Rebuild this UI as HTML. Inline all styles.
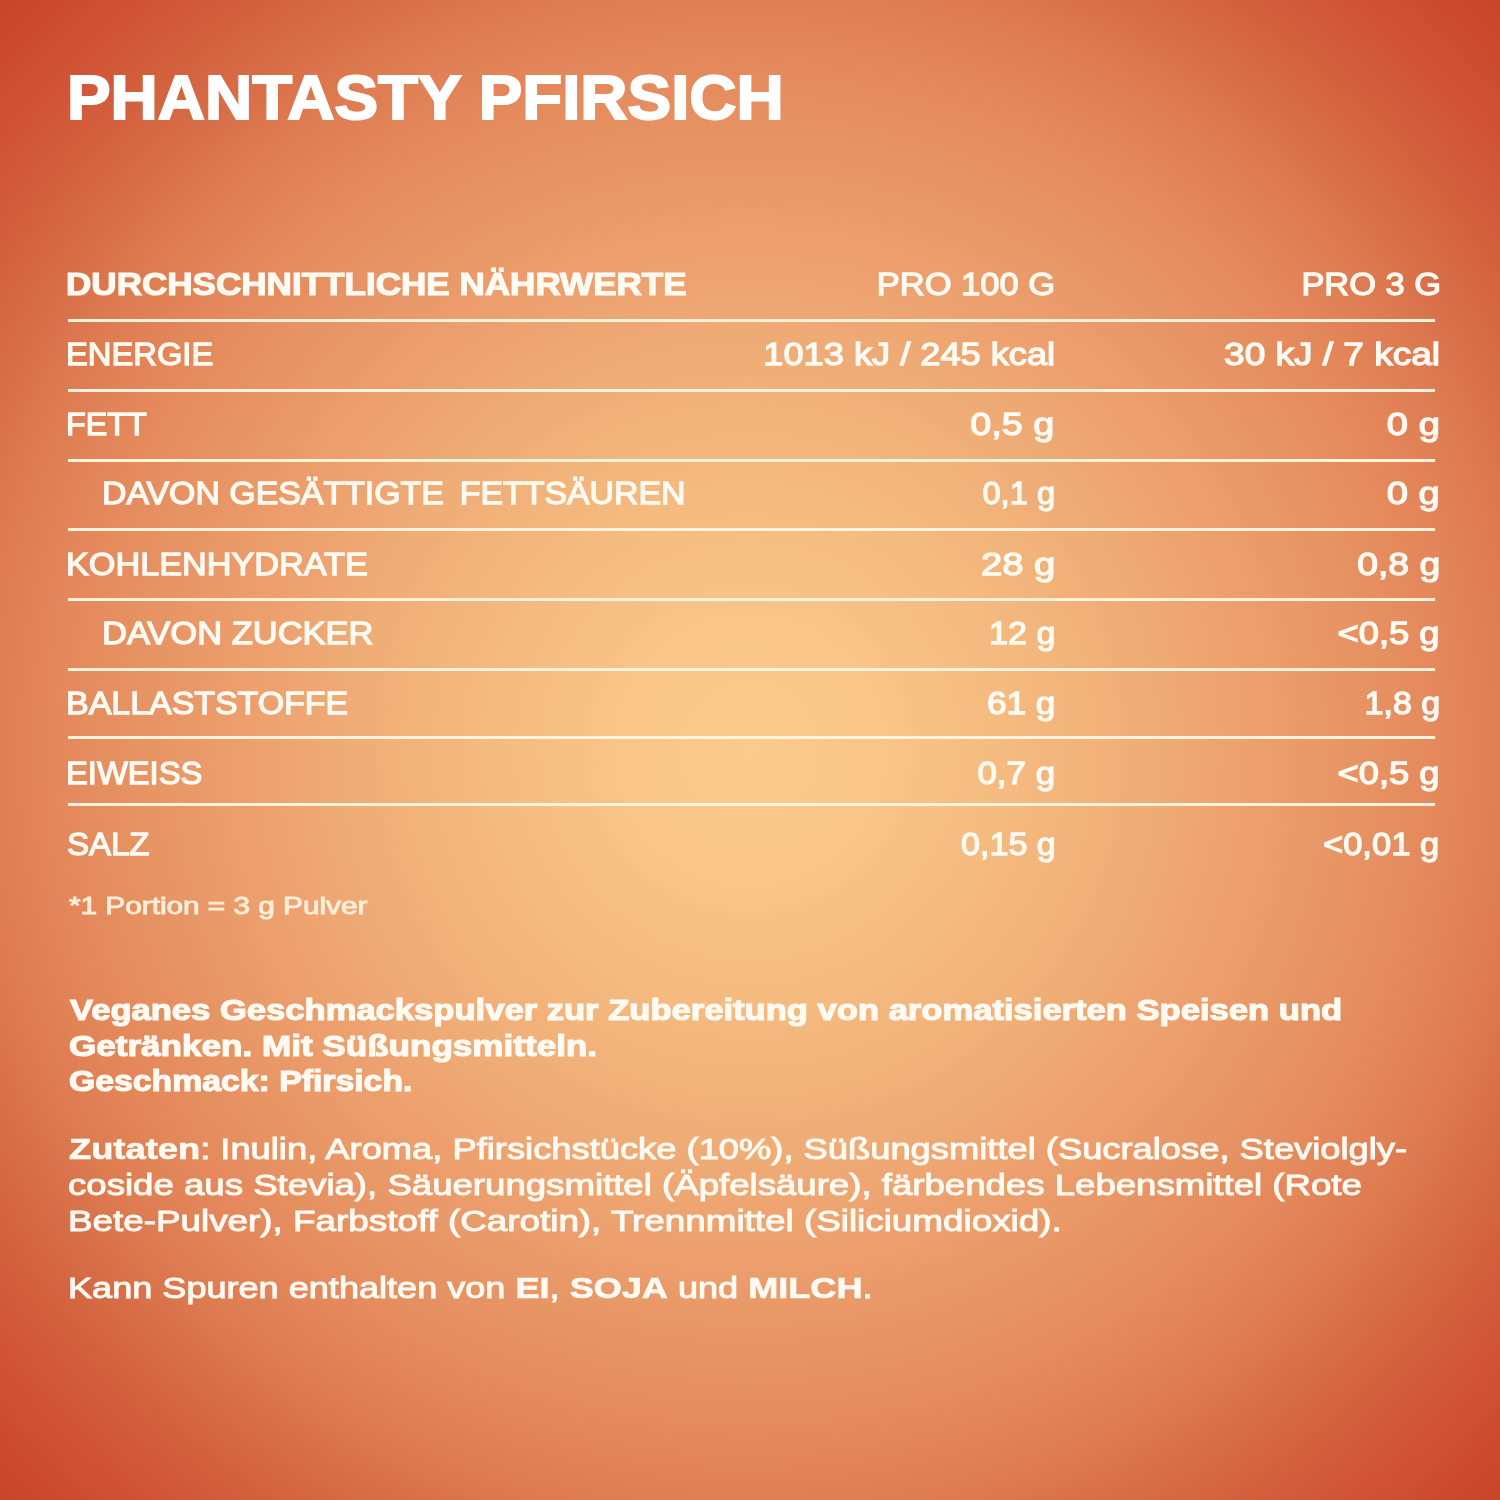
<!DOCTYPE html>
<html lang="de"><head><meta charset="utf-8">
<title>Phantasty Pfirsich – Nährwerte</title>
<style>
html,body{margin:0;padding:0}
body{width:1500px;height:1500px;overflow:hidden;position:relative;
 font-family:"Liberation Sans",sans-serif;color:#fffaf2;
 background:#c9442a radial-gradient(circle at 750px 750px,
  #facb8c 0px, #f9c588 127px, #f4b97e 274px, #efac76 403px, #eda16e 490px, #e69162 630px, #e4875b 700px, #dd7a50 776px, #d66b45 844px, #d05436 954px, #c9442a 1060px);}
.t{position:absolute;white-space:nowrap;line-height:1;margin:0;padding:0;will-change:transform}
.gap{margin-left:6px}
#fn{color:#fdeeda}
.l{transform-origin:0 50%}
.r{transform-origin:100% 50%}
.xb{font-weight:700;-webkit-text-stroke:2.00px currentColor}
.hb{font-weight:700;-webkit-text-stroke:1.20px currentColor}
.sb{font-weight:400;-webkit-text-stroke:1.30px currentColor}
.sb2{font-weight:400;-webkit-text-stroke:0.90px currentColor}
.pb{font-weight:700;-webkit-text-stroke:1.20px currentColor}
.pr{font-weight:400;-webkit-text-stroke:1.00px currentColor}
.pr b{font-weight:700;-webkit-text-stroke:.7px currentColor}
.xb{color:#fff}
.ln{position:absolute;background:#fff3de;left:68px;width:1367px;height:3px}
</style></head><body><main>
<div class="ln" style="top:319.00px"></div>
<div class="ln" style="top:389.00px"></div>
<div class="ln" style="top:458.50px"></div>
<div class="ln" style="top:528.00px"></div>
<div class="ln" style="top:598.00px"></div>
<div class="ln" style="top:667.50px"></div>
<div class="ln" style="top:736.20px"></div>
<div class="ln" style="top:803.10px"></div>
<section class="head">
<h1 id="title" class="t l xb" style="top:65.18px;font-size:63.52px;left:67.00px;transform:scaleX(1.0292);">PHANTASTY PFIRSICH</h1>
</section>
<section class="table">
<div id="h0" class="t l hb" style="top:269.32px;font-size:31.40px;left:66.00px;transform:scaleX(1.1169);">DURCHSCHNITTLICHE NÄHRWERTE</div>
<div id="h1" class="t r sb" style="top:269.15px;font-size:31.54px;right:445.27px;transform:scaleX(1.0934);">PRO 100 G</div>
<div id="h2" class="t r sb" style="top:269.15px;font-size:31.54px;right:59.59px;transform:scaleX(1.0907);">PRO 3 G</div>
<div id="r1" class="t l sb" style="top:339.15px;font-size:31.54px;left:66.00px;transform:scaleX(1.0374);">ENERGIE</div>
<div id="r2" class="t l sb" style="top:409.10px;font-size:31.54px;left:66.12px;transform:scaleX(1.0227);">FETT</div>
<div id="r3" class="t l sb" style="top:478.15px;font-size:31.54px;left:102.00px;transform:scaleX(1.0741);">DAVON GESÄTTIGTE<span class="gap"> </span>FETTSÄUREN</div>
<div id="r4" class="t l sb" style="top:548.90px;font-size:31.54px;left:66.00px;transform:scaleX(1.0858);">KOHLENHYDRATE</div>
<div id="r5" class="t l sb" style="top:618.15px;font-size:31.54px;left:102.00px;transform:scaleX(1.0938);">DAVON ZUCKER</div>
<div id="r6" class="t l sb" style="top:688.15px;font-size:31.54px;left:66.00px;transform:scaleX(1.0760);">BALLASTSTOFFE</div>
<div id="r7" class="t l sb" style="top:758.15px;font-size:31.54px;left:66.00px;transform:scaleX(1.0370);">EIWEISS</div>
<div id="r8" class="t l sb" style="top:829.00px;font-size:31.54px;left:67.03px;transform:scaleX(1.0464);">SALZ</div>
<div id="a1" class="t r sb" style="top:339.15px;font-size:31.54px;right:445.27px;transform:scaleX(1.1483);">1013 kJ / 245 kcal</div>
<div id="a2" class="t r sb" style="top:409.10px;font-size:31.54px;right:445.87px;transform:scaleX(1.1972);">0,5 g</div>
<div id="a3" class="t r sb" style="top:478.15px;font-size:31.54px;right:445.00px;transform:scaleX(1.0370);">0,1 g</div>
<div id="a4" class="t r sb" style="top:548.90px;font-size:31.54px;right:445.00px;transform:scaleX(1.2138);">28 g</div>
<div id="a5" class="t r sb" style="top:618.15px;font-size:31.54px;right:445.00px;transform:scaleX(1.0802);">12 g</div>
<div id="a6" class="t r sb" style="top:688.15px;font-size:31.54px;right:445.00px;transform:scaleX(1.1158);">61 g</div>
<div id="a7" class="t r sb" style="top:758.15px;font-size:31.54px;right:445.00px;transform:scaleX(1.1080);">0,7 g</div>
<div id="a8" class="t r sb" style="top:829.00px;font-size:31.54px;right:444.76px;transform:scaleX(1.0786);">0,15 g</div>
<div id="b1" class="t r sb" style="top:339.15px;font-size:31.54px;right:60.22px;transform:scaleX(1.1734);">30 kJ / 7 kcal</div>
<div id="b2" class="t r sb" style="top:409.10px;font-size:31.54px;right:59.70px;transform:scaleX(1.2089);">0 g</div>
<div id="b3" class="t r sb" style="top:478.15px;font-size:31.54px;right:59.68px;transform:scaleX(1.2093);">0 g</div>
<div id="b4" class="t r sb" style="top:548.90px;font-size:31.54px;right:59.90px;transform:scaleX(1.1812);">0,8 g</div>
<div id="b5" class="t r sb" style="top:618.15px;font-size:31.54px;right:60.00px;transform:scaleX(1.1526);">&lt;0,5 g</div>
<div id="b6" class="t r sb" style="top:688.15px;font-size:31.54px;right:60.00px;transform:scaleX(1.0770);">1,8 g</div>
<div id="b7" class="t r sb" style="top:758.15px;font-size:31.54px;right:60.00px;transform:scaleX(1.1526);">&lt;0,5 g</div>
<div id="b8" class="t r sb" style="top:829.00px;font-size:31.54px;right:60.50px;transform:scaleX(1.0938);">&lt;0,01 g</div>
<p id="fn" class="t l sb2" style="top:895.49px;font-size:23.11px;left:68.88px;transform:scaleX(1.2867);">*1 Portion = 3 g Pulver</p>
</section>
<section class="text">
<p id="p1" class="t l pb" style="top:995.15px;font-size:29.65px;left:69.59px;transform:scaleX(1.1666);">Veganes Geschmackspulver zur Zubereitung von aromatisierten Speisen und</p>
<p id="p2" class="t l pb" style="top:1031.00px;font-size:29.65px;left:69.24px;transform:scaleX(1.1832);">Getränken. Mit Süßungsmitteln.</p>
<p id="p3" class="t l pb" style="top:1066.00px;font-size:29.65px;left:69.35px;transform:scaleX(1.1390);">Geschmack: Pfirsich.</p>
<p id="q1" class="t l pr" style="top:1134.13px;font-size:29.80px;left:68.64px;transform:scaleX(1.2188);"><b>Zutaten</b>: Inulin, Aroma, Pfirsichstücke (10%), Süßungsmittel (Sucralose, Steviolgly-</p>
<p id="q2" class="t l pr" style="top:1170.03px;font-size:29.80px;left:68.08px;transform:scaleX(1.2283);">coside aus Stevia), Säuerungsmittel (Äpfelsäure), färbendes Lebensmittel (Rote</p>
<p id="q3" class="t l pr" style="top:1206.03px;font-size:29.80px;left:68.00px;transform:scaleX(1.2356);">Bete-Pulver), Farbstoff (Carotin), Trennmittel (Siliciumdioxid).</p>
<p id="k1" class="t l pr" style="top:1273.18px;font-size:29.80px;left:68.00px;transform:scaleX(1.2112);">Kann Spuren enthalten von <b>EI</b>, <b>SOJA</b> und <b>MILCH</b>.</p>
</section>
</main></body></html>
